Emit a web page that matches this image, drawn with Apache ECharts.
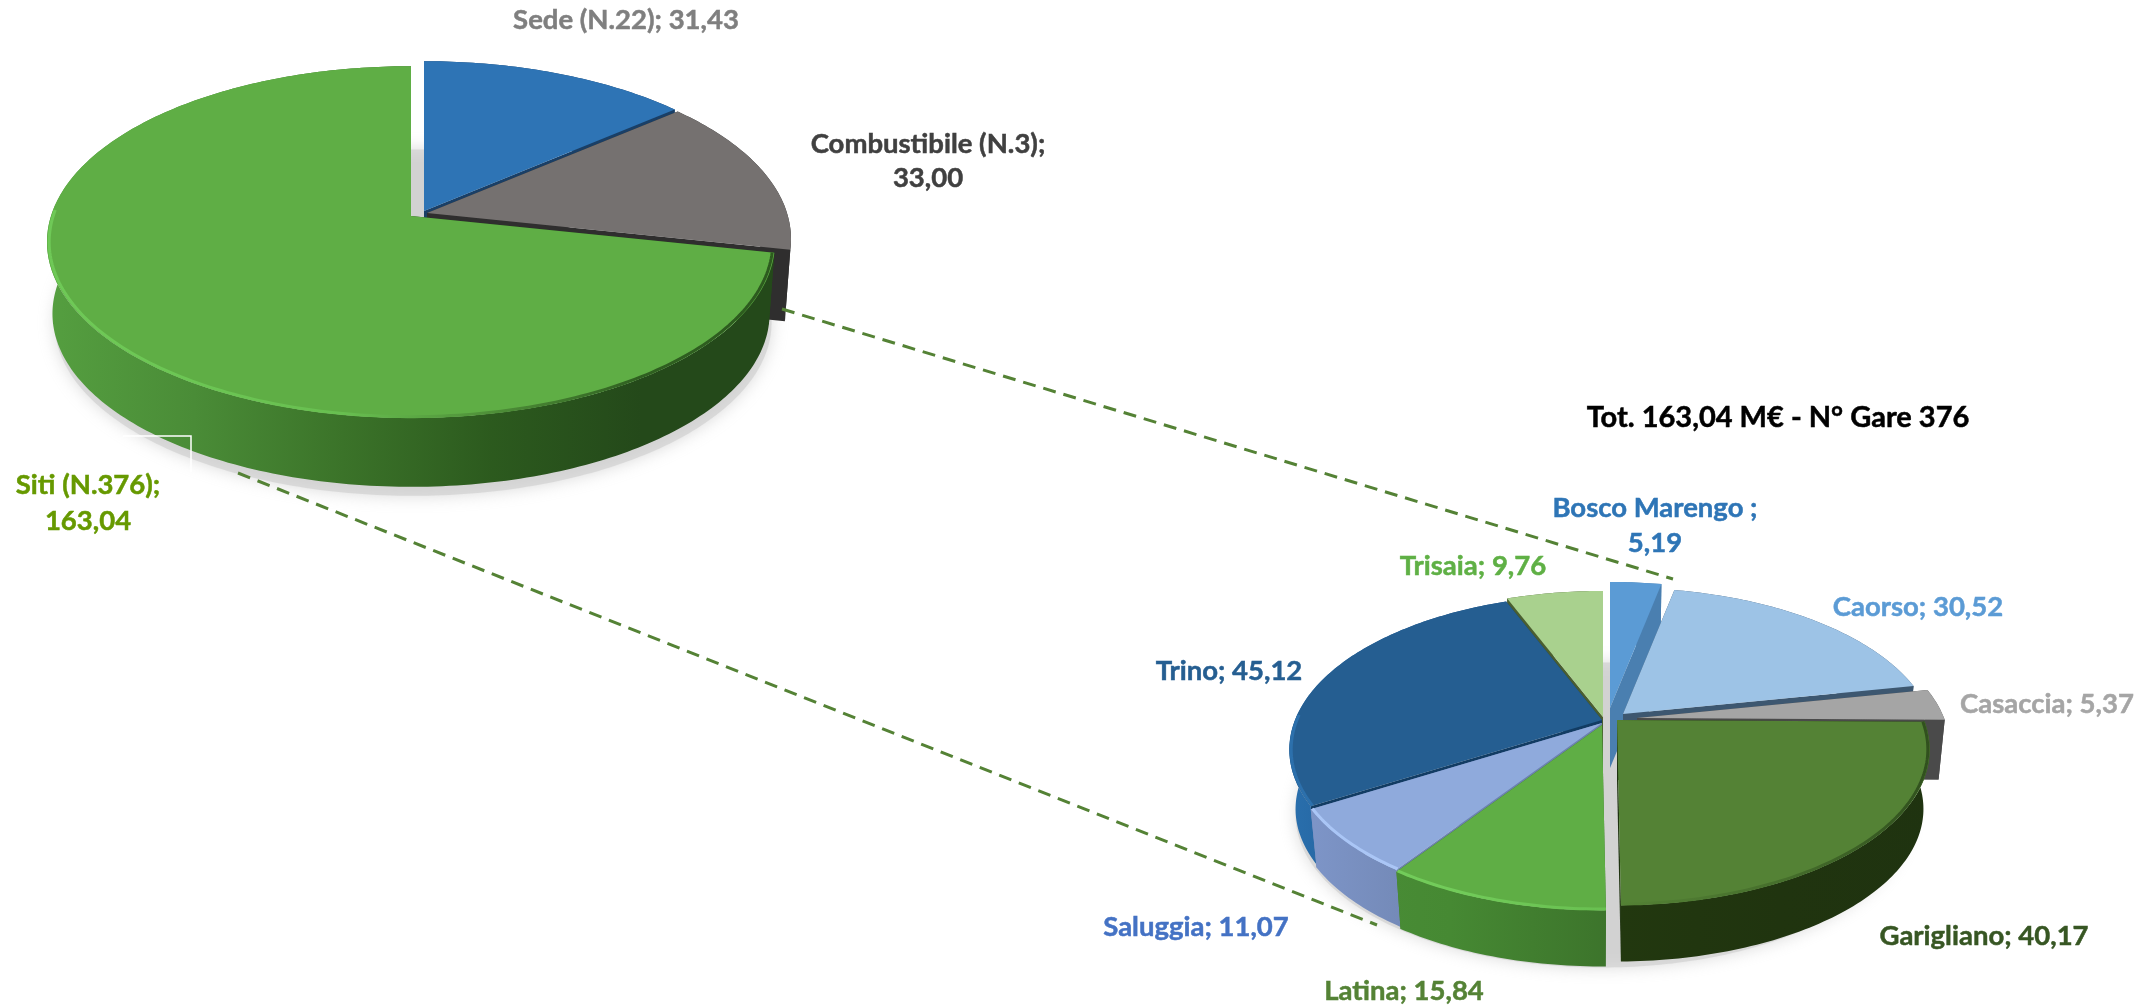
<!DOCTYPE html>
<html>
<head>
<meta charset="utf-8">
<style>
  html, body { margin: 0; padding: 0; background: #fff; }
  #main { width: 2149px; height: 1008px; }
</style>
<script src="https://cdn.jsdelivr.net/npm/echarts@6/dist/echarts.min.js"></script>
</head>
<body>
<div id="main"></div>
<script>
// main pie
const mainNames = ['Sede (N.22)', 'Combustibile (N.3)', 'Siti (N.376)']
const mainValues = [31.43, 33.0, 163.04]
// breakdown of Siti
const sitiNames = ['Bosco Marengo ', 'Caorso', 'Casaccia', 'Garigliano', 'Latina', 'Saluggia', 'Trino', 'Trisaia']
const sitiValues = [5.19, 30.52, 5.37, 40.17, 15.84, 11.07, 45.12, 9.76]
const sitiTitle = 'Tot. 163,04 M€ - N° Gare 376'

const FONT = 'bold 27.5px Lato'
const TITLE_FONT = 'bold 29px Lato'

function stops(list) {
  return list.map((c, i) => ({ offset: i / (list.length - 1), color: c }))
}

const mainPie = {
  hub: [413, 216], a: 172, b: 360, k: 0.148, depth: 72, shrink: 0.985, gradX: [45, 790],
  shadow: [0, 9],
  order: [0, 1, 2],
  slices: [
    { off: [11, -5], top: '#2E74B5', wall: ['#1A3F66', '#1A3F66'], edge: '#1A3F66',
      label: { lines: [[626, 20]], color: '#7F7F7F' } },
    { off: [14, -3], top: '#757170', wall: ['#2F2E2E', '#2F2E2E'], edge: '#2F2E2E',
      label: { lines: [[928, 144], [928, 178]], color: '#404040' } },
    { off: [-2, 0], top: '#5FAE45', wall: ['#559F40', '#4A8C37', '#3B7329', '#2C5A1E', '#24491A', '#24491A'], edge: '#24491A',
      rim: ['#6FC957', '#6CC654', '#68BF50', '#4E8F38', '#2F5F20', '#2C5A1E'],
      label: { lines: [[88, 485], [88, 521]], color: '#669900' } }
  ]
}

const sitiPie = {
  hub: [1602, 717], a: 150, b: 307, k: 0.19, depth: 60, shrink: 0.98, gradX: [1285, 1945],
  shadow: [0, 9],
  order: [7, 0, 1, 2, 6, 3, 5, 4],
  slices: [
    { off: [8, -9], top: '#5B9BD5', wall: ['#4A7FB0', '#4A7FB0'], edge: '#4A7FB0',
      label: { lines: [[1655, 508], [1655, 543]], color: '#2E75B6' } },
    { off: [21, -3], top: '#9DC3E6', wall: ['#3D5770', '#3D5770'], edge: '#3D5770',
      label: { lines: [[1918, 607]], color: '#5B9BD5' } },
    { off: [35, 1], top: '#A5A5A5', wall: ['#4A4A4A', '#4A4A4A'], edge: '#4A4A4A',
      label: { lines: [[2047, 704]], color: '#A5A5A5' } },
    { off: [15, 3], top: '#548235', wall: ['#2B4D19', '#2B4D19', '#22380F', '#20340F', '#1F3310'], edge: '#1F3310',
      rim: ['#548235', '#548235', '#548235', '#466F2C', '#2E4D1C'],
      label: { lines: [[1984, 936]], color: '#375623' } },
    { off: [0, 8], top: '#5FAE45', wall: ['#4B8F38', '#468933', '#3C732B', '#356628', '#2A5A1E'], edge: '#3C732B',
      rim: ['#72CC5A', '#72CC5A', '#68BF50', '#5FAE45', '#5FAE45'],
      label: { lines: [[1404, 991]], color: '#548235' } },
    { off: [0, 6], top: '#8FAADC', wall: ['#8098CC', '#6F84B0', '#6C80AC', '#6A7FAA', '#6A7FAA'], edge: '#6C82B0',
      rim: ['#AAC6F6', '#AAC6F6', '#A2BDEE', '#8FAADC', '#8FAADC'],
      label: { lines: [[1196, 927]], color: '#4472C4' } },
    { off: [0, 3], top: '#255E91', wall: ['#2A70AE', '#1C5288', '#1D4F80', '#1D4F80', '#1D4F80'], edge: '#123C63',
      rim: ['#2C70AC', '#2C70AC', '#255E91', '#255E91', '#255E91'],
      label: { lines: [[1229, 671]], color: '#255E91' } },
    { off: [1, 0], top: '#A9D18E', wall: ['#4A5E30', '#4A5E30'], edge: '#4A5E30',
      label: { lines: [[1473, 566]], color: '#5FB045' } }
  ]
}

// point of the top disc at angle deg (clockwise from 12 o'clock), with perspective
function project(pie, hub, deg, scale) {
  const t = (deg * Math.PI) / 180
  const w = 1 + pie.k * Math.cos(t)
  return [hub[0] + (scale * pie.b * Math.sin(t)) / w, hub[1] - (scale * pie.a * Math.cos(t)) / w]
}

function arc(pie, hub, from, to, scale) {
  const pts = []
  const n = Math.max(2, Math.ceil(Math.abs(to - from)))
  for (let i = 0; i <= n; i++) pts.push(project(pie, hub, from + ((to - from) * i) / n, scale))
  return pts
}

function gradient(pie, list) {
  return { type: 'linear', global: true, x: pie.gradX[0], y: 0, x2: pie.gradX[1], y2: 0, colorStops: stops(list) }
}

function labelText(name, value, breakLine) {
  const v = value.toFixed(2).replace('.', ',')
  return breakLine ? [name + ';', v] : [name + '; ' + v]
}

function buildPie(pie, names, values) {
  const total = values.reduce((a, b) => a + b, 0)
  let acc = 0
  const angles = values.map((v) => {
    const from = (acc / total) * 360
    acc += v
    return [from, (acc / total) * 360]
  })

  return {
    type: 'custom',
    coordinateSystem: 'none',
    silent: true,
    animation: false,
    data: pie.order.map((i) => [i, values[i]]),
    renderItem(params, api) {
      const i = api.value(0)
      const value = api.value(1)
      const s = pie.slices[i]
      const [from, to] = angles[i]
      const hubTop = [pie.hub[0] + s.off[0], pie.hub[1] + s.off[1]]
      const hubBot = [hubTop[0], hubTop[1] + pie.depth]
      const children = []

      if (params.dataIndex === 0) {
        // soft shadow under the whole pie
        const c = [pie.hub[0] + pie.shadow[0], pie.hub[1] + pie.depth + pie.shadow[1]]
        children.push({
          type: 'polygon',
          shape: { points: arc(pie, c, 0, 360, pie.shrink) },
          style: { fill: 'rgba(205,205,205,0.62)', shadowBlur: 16, shadowColor: 'rgba(170,170,170,0.7)' }
        })
      }

      // cut faces
      ;[from, to].forEach((d) => {
        const rimT = project(pie, hubTop, d, 1)
        const rimB = project(pie, hubBot, d, pie.shrink)
        children.push({
          type: 'polygon',
          shape: { points: [hubTop, rimT, rimB, hubBot] },
          style: { fill: s.edge }
        })
      })

      // outer wall
      const topArc = arc(pie, hubTop, from, to, 1)
      const botArc = arc(pie, hubBot, to, from, pie.shrink)
      children.push({
        type: 'polygon',
        shape: { points: topArc.concat(botArc) },
        style: { fill: gradient(pie, s.wall) }
      })

      // top face
      children.push({
        type: 'polygon',
        shape: { points: [hubTop].concat(topArc) },
        style: { fill: s.top }
      })

      // bevel along the front rim
      if (s.rim) {
        children.push({
          type: 'polyline',
          shape: { points: arc(pie, hubTop, Math.max(from, 90), Math.min(to, 272), 0.994) },
          style: { fill: 'none', stroke: gradient(pie, s.rim), lineWidth: 3 }
        })
      }

      const lines = labelText(names[i], value, s.label.lines.length > 1)
      s.label.lines.forEach((p, j) => {
        children.push({
          type: 'text',
          z2: 100,
          style: {
            text: lines[j], x: p[0], y: p[1], fill: s.label.color, font: FONT,
            stroke: s.label.color, lineWidth: 0.5,
            align: 'center', verticalAlign: 'middle'
          }
        })
      })

      return { type: 'group', children }
    }
  }
}

const chart = echarts.init(document.getElementById('main'), null, { renderer: 'canvas' })
chart.setOption({
  animation: false,
  backgroundColor: '#fff',
  graphic: [
    {
      type: 'line', z: 10, silent: true,
      shape: { x1: 782, y1: 309, x2: 1673, y2: 579 },
      style: { stroke: '#548235', lineWidth: 3, lineDash: [13, 8] }
    },
    {
      type: 'line', z: 10, silent: true,
      shape: { x1: 238, y1: 473, x2: 1377, y2: 925 },
      style: { stroke: '#548235', lineWidth: 3, lineDash: [13, 8] }
    },
    {
      type: 'polyline', z: 10, silent: true,
      shape: { points: [[123, 436], [191, 436], [191, 472]] },
      style: { fill: 'none', stroke: '#fff', lineWidth: 1.5 }
    },
    {
      type: 'text', z: 10, silent: true,
      style: {
        text: sitiTitle, x: 1778, y: 418, fill: '#000', font: TITLE_FONT,
        stroke: '#000', lineWidth: 0.5, align: 'center', verticalAlign: 'middle'
      }
    }
  ],
  series: [buildPie(mainPie, mainNames, mainValues), buildPie(sitiPie, sitiNames, sitiValues)]
})
</script>
</body>
</html>
